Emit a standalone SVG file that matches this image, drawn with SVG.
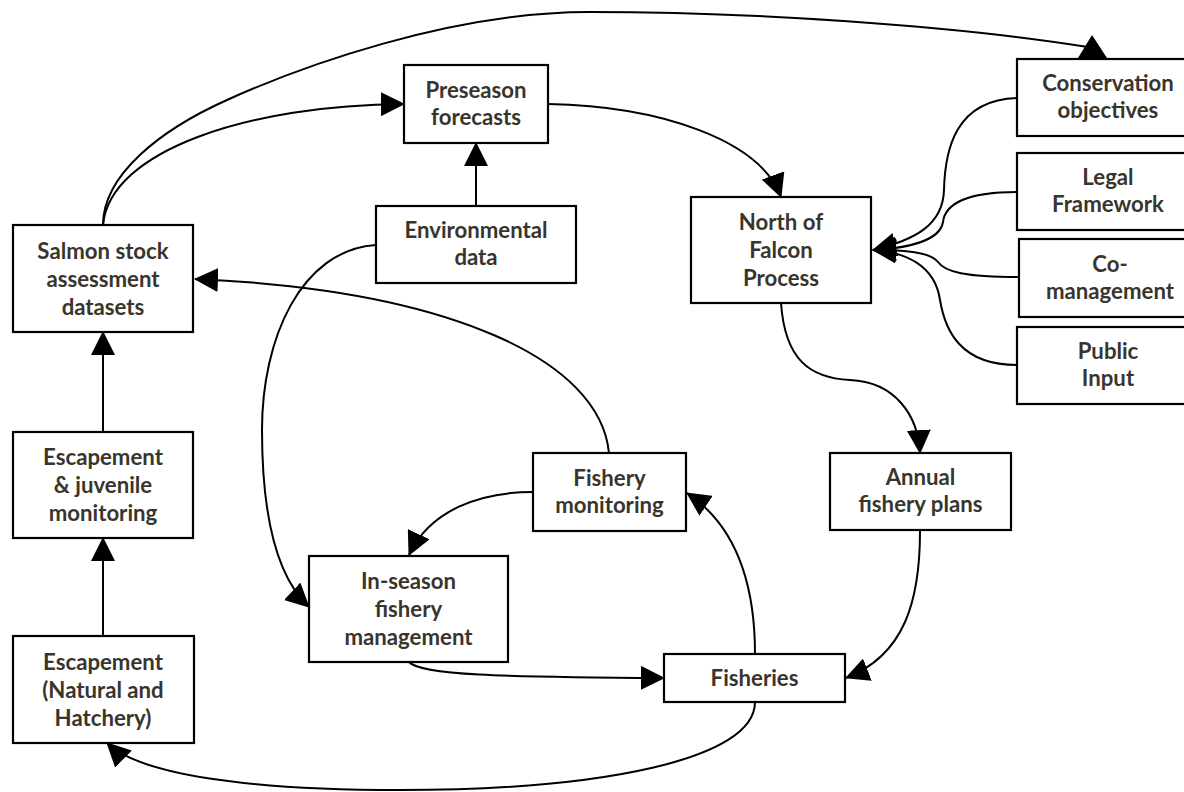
<svg xmlns="http://www.w3.org/2000/svg" width="1184" height="792" viewBox="0 0 1184 792">
<style>
  .box { fill: #ffffff; stroke: #000000; stroke-width: 2.2; }
  .lbl { font-family: Lato, "Open Sans", "Liberation Sans", sans-serif; font-weight: 700; font-size: 22.2px; fill: #38352d; text-anchor: middle; }
  .cn { fill: none; stroke: #000000; stroke-width: 2; }
  .ca { fill: none; stroke: #000000; stroke-width: 2; marker-end: url(#ah); }
</style>
<defs>
  <marker id="ah" markerUnits="userSpaceOnUse" markerWidth="24" markerHeight="24" refX="23" refY="12" orient="auto" viewBox="0 0 24 24">
    <path d="M0,0 L24,12 L0,24 z" fill="#000000"/>
  </marker>
</defs>
<rect width="1184" height="792" fill="#ffffff"/>

<g id="connectors">
  <path class="cn" d="M103,225 C103,175 160,130 227,100 C300,67 450,12 589,12 C750,12 950,25 1088,47"/>
  <polygon points="1092,35 1078,58 1107,58" fill="#000000"/>
  <path class="ca" d="M103,225 C110,150 250,105 404,104"/>
  <path class="ca" d="M476,206 L476,143"/>
  <path class="ca" d="M548,104 C660,106 760,140 781,197"/>
  <path class="ca" d="M1017,98 C955,100 945,150 944,190 C943,225 915,240 873,250"/>
  <path class="ca" d="M1017,192 C965,192 945,205 943,222 C940,240 910,248 873,250"/>
  <path class="ca" d="M1019,277 C965,277 945,272 938,262 C930,252 905,250 873,250"/>
  <path class="ca" d="M1017,365 C960,365 945,330 940,300 C935,265 905,252 873,250"/>
  <path class="ca" d="M781,303 C785,360 810,378 850,380 C895,382 918,415 920,453"/>
  <path class="ca" d="M920,531 C920,600 905,655 846,678"/>
  <path class="ca" d="M755,654 C755,580 735,525 687,493"/>
  <path class="ca" d="M609,453 C600,360 450,290 195,279"/>
  <path class="ca" d="M533,492 C480,492 430,510 409,555"/>
  <path class="ca" d="M376,245 C300,250 262,340 262,430 C262,525 280,580 309,607"/>
  <path class="ca" d="M409,662 C420,675 500,677 664,678"/>
  <path class="ca" d="M755,702 C755,760 600,790 400,790 C250,790 140,775 107,743"/>
  <path class="ca" d="M103,636 L103,538"/>
  <path class="ca" d="M103,432 L103,332"/>
</g>

<g id="salmon-stock">
  <rect class="box" x="13" y="225" width="180" height="107"/>
  <text class="lbl" x="103" y="259">Salmon stock</text>
  <text class="lbl" x="103" y="287">assessment</text>
  <text class="lbl" x="103" y="315">datasets</text>
</g>
<g id="preseason">
  <rect class="box" x="404" y="65" width="144" height="78"/>
  <text class="lbl" x="476" y="98">Preseason</text>
  <text class="lbl" x="476" y="125">forecasts</text>
</g>
<g id="environmental">
  <rect class="box" x="376" y="206" width="200" height="77"/>
  <text class="lbl" x="476" y="238">Environmental</text>
  <text class="lbl" x="476" y="265">data</text>
</g>
<g id="north-of-falcon">
  <rect class="box" x="691" y="197" width="180" height="106"/>
  <text class="lbl" x="781" y="230">North of</text>
  <text class="lbl" x="781" y="258">Falcon</text>
  <text class="lbl" x="781" y="286">Process</text>
</g>
<g id="conservation">
  <rect class="box" x="1017" y="59" width="182" height="77"/>
  <text class="lbl" x="1108" y="91">Conservation</text>
  <text class="lbl" x="1108" y="118">objectives</text>
</g>
<g id="legal">
  <rect class="box" x="1017" y="153" width="182" height="77"/>
  <text class="lbl" x="1108" y="185">Legal</text>
  <text class="lbl" x="1108" y="212">Framework</text>
</g>
<g id="co-management">
  <rect class="box" x="1019" y="239" width="182" height="78"/>
  <text class="lbl" x="1110" y="272">Co-</text>
  <text class="lbl" x="1110" y="299">management</text>
</g>
<g id="public-input">
  <rect class="box" x="1017" y="327" width="182" height="77"/>
  <text class="lbl" x="1108" y="359">Public</text>
  <text class="lbl" x="1108" y="386">Input</text>
</g>
<g id="escapement-juvenile">
  <rect class="box" x="13" y="432" width="180" height="106"/>
  <text class="lbl" x="103" y="465">Escapement</text>
  <text class="lbl" x="103" y="493">&amp; juvenile</text>
  <text class="lbl" x="103" y="521">monitoring</text>
</g>
<g id="escapement-natural">
  <rect class="box" x="13" y="636" width="181" height="107"/>
  <text class="lbl" x="103" y="670">Escapement</text>
  <text class="lbl" x="103" y="698">(Natural and</text>
  <text class="lbl" x="103" y="726">Hatchery)</text>
</g>
<g id="in-season">
  <rect class="box" x="309" y="556" width="199" height="106"/>
  <text class="lbl" x="408.5" y="589">In-season</text>
  <text class="lbl" x="408.5" y="617">fishery</text>
  <text class="lbl" x="408.5" y="645">management</text>
</g>
<g id="fishery-monitoring">
  <rect class="box" x="533" y="453" width="153" height="78"/>
  <text class="lbl" x="609.5" y="486">Fishery</text>
  <text class="lbl" x="609.5" y="513">monitoring</text>
</g>
<g id="annual-plans">
  <rect class="box" x="830" y="453" width="181" height="77"/>
  <text class="lbl" x="920.5" y="485">Annual</text>
  <text class="lbl" x="920.5" y="512">fishery plans</text>
</g>
<g id="fisheries">
  <rect class="box" x="664" y="654" width="181" height="48"/>
  <text class="lbl" x="754.5" y="686">Fisheries</text>
</g>
</svg>
